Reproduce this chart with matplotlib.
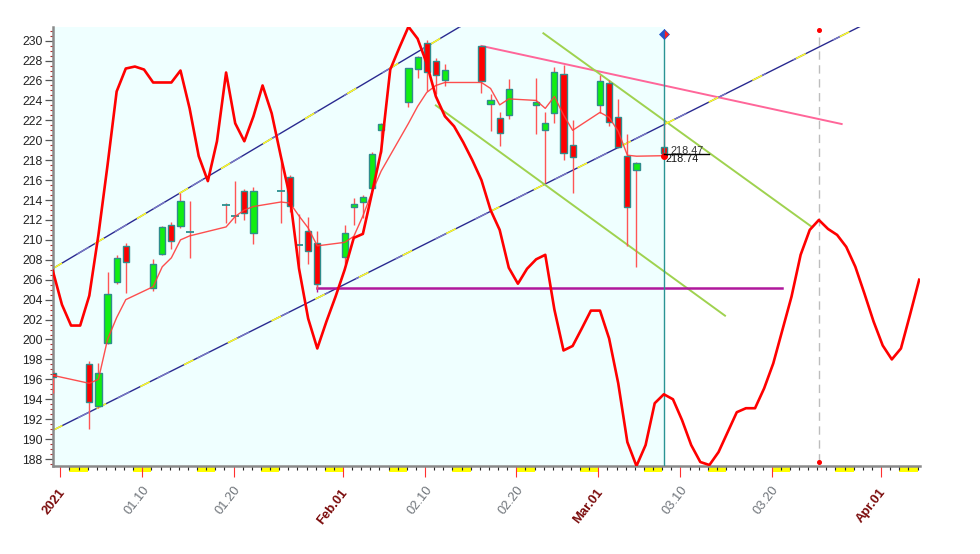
import matplotlib

matplotlib.use("Agg")
import matplotlib.pyplot as plt
import numpy as np
import pandas as pd
from matplotlib.patches import Rectangle
from matplotlib.ticker import FixedLocator, MultipleLocator, NullFormatter

plt.rcParams["font.family"] = ["Liberation Sans", "DejaVu Sans"]

BASE_DATE = pd.Timestamp("2021-01-01")
SLOT_SHIFT = 0.18  # marks sit slightly right of the day tick

# daily candles
candle_dates = [
    "2020-12-31", "2021-01-04", "2021-01-05", "2021-01-06", "2021-01-07", "2021-01-08",
    "2021-01-11", "2021-01-12", "2021-01-13", "2021-01-14", "2021-01-15", "2021-01-19",
    "2021-01-20", "2021-01-21", "2021-01-22", "2021-01-25", "2021-01-26", "2021-01-27",
    "2021-01-28", "2021-01-29", "2021-02-01", "2021-02-02", "2021-02-03", "2021-02-04",
    "2021-02-05", "2021-02-08", "2021-02-09", "2021-02-10", "2021-02-11", "2021-02-12",
    "2021-02-16", "2021-02-17", "2021-02-18", "2021-02-19", "2021-02-22", "2021-02-23",
    "2021-02-24", "2021-02-25", "2021-02-26", "2021-03-01", "2021-03-02", "2021-03-03",
    "2021-03-04", "2021-03-05", "2021-03-08",
]
opens = [
    196.6, 197.5, 193.3, 199.6, 205.8, 209.4, 205.2, 208.6, 211.5, 211.4, 210.8, 213.5,
    212.4, 214.95, 210.65, 214.9, 216.3, 209.5, 210.85, 209.7, 208.3, 213.3, 213.8, 215.2,
    221.0, 223.85, 227.15, 229.8, 228.0, 226.0, 229.45, 223.6, 222.2, 222.55, 223.5, 221.0,
    222.7, 226.7, 219.5, 223.55, 225.7, 222.3, 218.4, 217.0, 219.3,
]
highs = [
    196.8, 197.8, 197.6, 206.8, 208.5, 209.7, 208.05, 211.4, 211.8, 214.7, 213.9, 213.7,
    215.9, 215.1, 215.3, 217.9, 216.5, 212.6, 212.3, 210.9, 211.5, 214.2, 214.5, 218.8,
    221.7, 227.3, 228.5, 230.1, 228.3, 227.7, 229.5, 224.6, 222.8, 226.1, 226.3, 222.8,
    227.4, 227.6, 222.0, 226.55, 226.0, 224.1, 220.6, 217.8, 222.0,
]
lows = [
    194.6, 191.0, 193.1, 199.5, 205.6, 204.7, 204.9, 208.5, 209.1, 211.2, 208.2, 211.7,
    211.7, 212.0, 209.6, 211.7, 212.8, 207.4, 207.6, 205.1, 207.6, 211.5, 212.2, 215.0,
    218.7, 223.3, 226.2, 224.9, 224.6, 225.4, 224.7, 220.9, 219.4, 222.1, 220.6, 215.7,
    221.7, 218.0, 214.75, 222.7, 221.4, 219.2, 209.4, 207.3, 218.4,
]
closes = [
    196.2, 193.7, 196.6, 204.6, 208.2, 207.8, 207.55, 211.3, 209.9, 213.9, 210.8, 213.5,
    212.4, 212.65, 214.95, 214.9, 213.4, 209.5, 208.9, 205.6, 210.7, 213.6, 214.3, 218.6,
    221.6, 227.25, 228.35, 226.9, 226.6, 227.1, 225.9, 224.0, 220.7, 225.1, 223.8, 221.7,
    226.9, 218.7, 218.35, 225.95, 221.8, 219.3, 213.3, 217.7, 218.75,
]
moving_avg = [
    196.4, 195.6, 196.0, 200.0, 202.2, 204.0, 205.3, 207.3, 208.2, 210.0, 210.4, 211.3,
    212.35, 213.0, 213.35, 213.8, 213.7, 212.4, 211.2, 209.4, 209.75, 210.35, 212.4, 214.8,
    216.9, 221.7, 223.4, 224.8, 225.5, 225.8, 225.8, 225.2, 223.55, 224.15, 224.0, 223.2,
    224.4, 222.55, 221.0, 222.8, 222.3, 220.9, 218.5, 218.4, 218.45,
]

# cycle line, one value per calendar day from 2020-12-31
cycle_start = "2020-12-31"
cycle_values = [
    206.9, 203.5, 201.4, 201.4, 204.4, 210.5, 217.5, 224.9, 227.2, 227.4, 227.1, 225.8,
    225.8, 225.8, 227.0, 223.2, 218.4, 215.9, 219.9, 226.8, 221.7, 219.9, 222.4, 225.5,
    222.7, 218.4, 214.3, 207.1, 202.1, 199.1, 201.8, 204.3, 207.0, 210.2, 210.6, 214.7,
    218.9, 227.1, 229.3, 231.4, 230.2, 227.7, 224.4, 222.4, 221.4, 219.8, 218.0, 216.0,
    213.0, 211.0, 207.2, 205.6, 207.1, 208.05, 208.5, 203.0, 198.9, 199.35, 201.1, 202.9,
    202.9, 200.1, 195.6, 189.7, 187.3, 189.4, 193.6, 194.5, 194.0, 191.9, 189.4, 187.7,
    187.4, 188.7, 190.7, 192.7, 193.1, 193.1, 195.1, 197.6, 200.95, 204.3, 208.5, 211.0,
    212.0, 211.1, 210.5, 209.3, 207.3, 204.6, 201.8, 199.4, 198.0, 199.1, 202.5, 206.0,
]

# drawn trend lines (anchor time, price)
upper_channel_dates = ["2020-12-31", "2021-02-14"]
upper_channel_values = [207.12, 231.59]
lower_channel_dates = ["2020-12-31", "2021-03-31"]
lower_channel_values = [190.88, 232.1]
resistance_dates = ["2021-02-16", "2021-03-27 12:00"]
resistance_values = [229.47, 221.63]
green_upper_dates = ["2021-02-22 19:00", "2021-03-24 05:00"]
green_upper_values = [230.74, 211.32]
green_lower_dates = ["2021-02-11", "2021-03-14 17:00"]
green_lower_values = [223.5, 202.39]
support_dates = ["2021-01-29", "2021-03-21"]
support_value = 205.14
cursor_date = "2021-03-08"
cycle_peak_date = "2021-03-25"
readout_dates = ["2021-03-08", "2021-03-13"]
readout_value = 218.6
readout_labels = ["218.47", "218.74"]

# x axis labels
tick_dates = ["2021-01-01", "2021-01-10", "2021-01-20", "2021-02-01", "2021-02-10",
              "2021-02-20", "2021-03-01", "2021-03-10", "2021-03-20", "2021-04-01"]
tick_labels = ["2021", "01.10", "01.20", "Feb.01", "02.10", "02.20", "Mar.01", "03.10",
               "03.20", "Apr.01"]
month_label = [True, False, False, True, False, False, True, False, False, True]


def day_pos(values, shift=SLOT_SHIFT):
    stamps = pd.to_datetime(pd.Series(values), format="mixed")
    return ((stamps - BASE_DATE) / pd.Timedelta(days=1)).to_numpy() + shift


def draw_channel(ax, dates, values):
    x = day_pos(dates)
    ax.plot(x, values, color="#2a2a90", lw=1.0, zorder=2, solid_capstyle="butt")
    ax.plot(x, values, color="#7777c4", lw=1.0, zorder=2.05, linestyle=(12, (10, 22)))
    ax.plot(x, values, color="#ffff22", lw=1.1, zorder=2.1, linestyle=(0, (7, 25)))


def main() -> int:
    fig = plt.figure(figsize=(9.8, 5.54), dpi=100)
    ax = fig.add_axes([53 / 980, 88 / 554, 867 / 980, 439.3 / 554])
    x_left, x_right = -0.80, 94.27
    y_low, y_high = 187.3, 231.4
    ax.set_xlim(x_left, x_right)
    ax.set_ylim(y_low, y_high)

    cursor_x = day_pos([cursor_date])[0]
    ax.axvspan(x_left, cursor_x, color="#efffff", zorder=0, lw=0)

    draw_channel(ax, upper_channel_dates, upper_channel_values)
    draw_channel(ax, lower_channel_dates, lower_channel_values)
    ax.plot(day_pos(resistance_dates), resistance_values, color="#ff6699", lw=1.4, zorder=2)
    ax.plot(day_pos(green_upper_dates), green_upper_values, color="#9fd24f", lw=1.4, zorder=2)
    ax.plot(day_pos(green_lower_dates), green_lower_values, color="#9fd24f", lw=1.4, zorder=2)
    sx = day_pos(support_dates)
    ax.plot(sx, [support_value, support_value], color="#b0189c", lw=1.8, zorder=2)
    ax.plot(sx[:1], [support_value], marker="|", ms=6, color="#b0189c", zorder=2)

    # candles
    cx = day_pos(candle_dates)
    width = 0.68
    ax.vlines(cx, lows, highs, color="#ff5555", lw=1.0, zorder=3)
    for x, o, c in zip(cx, opens, closes):
        if abs(c - o) < 1e-6:
            ax.hlines(o, x - width / 2 - 0.1, x + width / 2 + 0.1, color="#2a8f8f", lw=1.3, zorder=3.5)
            continue
        face = "#11ee11" if c > o else "#ff0000"
        ax.add_patch(Rectangle((x - width / 2, min(o, c)), width, abs(c - o),
                               facecolor=face, edgecolor="#2f8c8c", lw=1.0, zorder=3.5))

    ax.plot(cx, moving_avg, color="#ff3b3b", lw=1.0, alpha=0.9, zorder=4)
    ax.plot(cx[-1:], moving_avg[-1:], "o", color="#ff0000", ms=4, zorder=6)

    cycle_dates = pd.date_range(cycle_start, periods=len(cycle_values), freq="D")
    ax.plot(day_pos(cycle_dates), cycle_values, color="#ff0000", lw=1.9, zorder=5)

    # cursor line with diamond handle
    ax.vlines(cursor_x, y_low, 230.67, color="#2a9494", lw=1.0, zorder=4)
    ax.plot([cursor_x], [230.67], marker="D", ms=5, fillstyle="left", markerfacecolor="#2255cc",
            markerfacecoloralt="#ff2020", markeredgecolor="#2255cc", markeredgewidth=0.5, zorder=6)

    # projected cycle peak
    px = day_pos([cycle_peak_date])[0]
    ax.vlines(px, 187.75, 231.07, color="#bdbdbd", lw=1.0, linestyles=(0, (6, 4)), zorder=2)
    ax.plot([px, px], [231.07, 187.75], "o", color="#ff0000", ms=2.6, zorder=6)

    # value readout
    rx = day_pos(readout_dates)
    ax.plot(rx, [readout_value, readout_value], color="#000000", lw=1.0, zorder=6)
    ax.text(rx[0] + 0.75, 218.45, readout_labels[0], fontsize=7.8, color="#333333",
            ha="left", va="bottom", zorder=7)
    ax.text(rx[0] + 0.2, 218.62, readout_labels[1], fontsize=7.8, color="#111111",
            ha="left", va="top", zorder=7)

    # axes styling
    for side in ("top", "right"):
        ax.spines[side].set_visible(False)
    for side in ("left", "bottom"):
        ax.spines[side].set_color("#8a8a8a")
        ax.spines[side].set_linewidth(1.8)

    ax.yaxis.set_major_locator(MultipleLocator(2))
    ax.yaxis.set_minor_locator(MultipleLocator(0.5))
    ax.set_yticks(np.arange(188, 231, 2))
    ax.tick_params(axis="y", which="major", length=5.8, width=0.9, color="#555555",
                   labelsize=8.8, labelcolor="#222222", pad=1.5)
    ax.tick_params(axis="y", which="minor", length=2.2, width=0.8, color="#b03030")

    tick_pos = day_pos(tick_dates, shift=0.0)
    ax.xaxis.set_major_locator(FixedLocator(tick_pos))
    ax.xaxis.set_minor_locator(MultipleLocator(1))
    ax.xaxis.set_major_formatter(NullFormatter())
    ax.tick_params(axis="x", which="major", length=7.8, width=0.8, color="#ff3030")
    ax.tick_params(axis="x", which="minor", length=2.9, width=0.8, color="#222222")

    # weekend markers below the axis
    trans = ax.get_xaxis_transform()
    days = pd.date_range("2020-12-26", "2021-04-05", freq="D")
    for day in days[days.dayofweek == 5]:
        start = (day - BASE_DATE).days
        span_lo = max(start, x_left)
        span_hi = min(start + 2, x_right)
        if span_hi <= span_lo:
            continue
        ax.add_patch(Rectangle((span_lo, -0.0137), span_hi - span_lo, 0.0137, transform=trans,
                               facecolor="#ffff00", edgecolor="none", clip_on=False, zorder=1))

    for pos, label, is_month in zip(tick_pos, tick_labels, month_label):
        if is_month:
            ax.text(pos + 0.8, -0.047, label, transform=trans, rotation=52, ha="right", va="top",
                    fontsize=9.4, fontweight="bold", color="#7a0a0a", rotation_mode="default")
        else:
            ax.text(pos + 1.05, -0.041, label, transform=trans, rotation=52, ha="right", va="top",
                    fontsize=9.4, color="#6f747a", rotation_mode="default")

    fig.savefig("out.png", dpi=100, facecolor="white")
    plt.close(fig)
    return 0


if __name__ == "__main__":
    raise SystemExit(main())
